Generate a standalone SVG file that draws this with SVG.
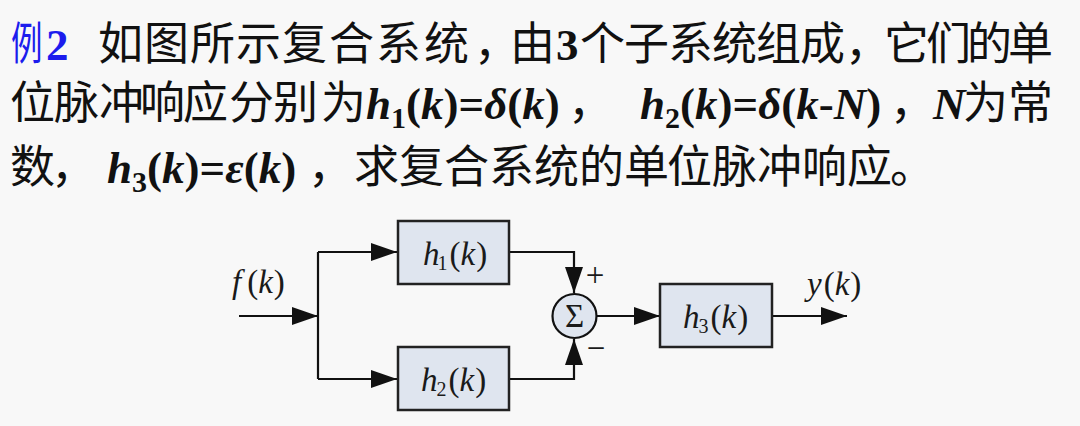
<svg xmlns="http://www.w3.org/2000/svg" width="1080" height="426" viewBox="0 0 1080 426">
<style>
.cj{font-family:"Noto Sans CJK SC","Noto Sans CJK JP",sans-serif;font-size:45px;fill:#111}
.m{font-family:"Liberation Serif","Times New Roman",serif;font-size:45px;font-weight:bold;fill:#111}
.i{font-style:italic}
.sub{font-size:30px}
.blue{fill:#1c1ced}
.box{fill:#dfe5ef;stroke:#222;stroke-width:2.5}
.lbl{font-family:"Liberation Serif","Times New Roman",serif;font-size:33px;fill:#1a1a1a}
.ls{font-size:20px}
.wire{fill:none;stroke:#111;stroke-width:2.2}
</style>
<defs>
<marker id="arr" viewBox="0 0 26 18" refX="26" refY="9" markerWidth="26" markerHeight="18" markerUnits="userSpaceOnUse" orient="auto">
<path d="M0,0 L26,9 L0,18 Z" fill="#111"/>
</marker>
</defs>
<rect x="0" y="0" width="1080" height="426" fill="#f8f8f8"/>

<g id="problem-text">
<text class="cj blue" transform="matrix(0.7 0 0 1 11 60)">例</text>
<text class="m blue" x="46" y="60" font-size="48">2</text>
<text class="cj" y="60" x="98 144 190 236 282 329 376 424 474 510">如图所示复合系统，由</text>
<text class="m" x="556" y="60">3</text>
<text class="cj" y="60" x="580 624 668 712 756 800 845 884 926 967 1008">个子系统组成，它们的单</text>

<text class="cj" y="119" x="10 54 99 140 183 229 273 321">位脉冲响应分别为</text>
<text class="m" x="366" y="119"><tspan class="i">h</tspan><tspan class="sub" dy="9">1</tspan><tspan dy="-9">(</tspan><tspan class="i">k</tspan>)=<tspan class="i">δ</tspan>(<tspan class="i">k</tspan>)</text>
<text class="cj" x="568" y="119">，</text>
<text class="m" x="640" y="119"><tspan class="i">h</tspan><tspan class="sub" dy="9">2</tspan><tspan dy="-9">(</tspan><tspan class="i">k</tspan>)=<tspan class="i">δ</tspan>(<tspan class="i">k</tspan>-<tspan class="i">N</tspan>)</text>
<text class="cj" x="890" y="119">，</text>
<text class="m i" x="933" y="119">N</text>
<text class="cj" y="119" x="963 1008">为常</text>

<text class="cj" y="183" x="10 51">数，</text>
<text class="m" x="107" y="183"><tspan class="i">h</tspan><tspan class="sub" dy="9">3</tspan><tspan dy="-9">(</tspan><tspan class="i">k</tspan>)=<tspan class="i">ε</tspan>(<tspan class="i">k</tspan>)</text>
<text class="cj" y="183" x="308 354 399 444 489 534 579 624 667 712 757 802 847 890">，求复合系统的单位脉冲响应。</text>
</g>

<g id="connectors">
<path class="wire" d="M239,316 H318" marker-end="url(#arr)"/>
<path class="wire" d="M318,252 V379"/>
<path class="wire" d="M318,252 H397" marker-end="url(#arr)"/>
<path class="wire" d="M318,379 H397" marker-end="url(#arr)"/>
<path class="wire" d="M509,252 H574 V293" marker-end="url(#arr)"/>
<path class="wire" d="M509,379 H574 V339" marker-end="url(#arr)"/>
<path class="wire" d="M597,316 H660" marker-end="url(#arr)"/>
<path class="wire" d="M772,316 H847" marker-end="url(#arr)"/>
</g>

<g id="input-label">
<text class="lbl" x="232" y="293"><tspan class="i">f</tspan><tspan dx="6">(</tspan><tspan class="i">k</tspan><tspan dx="1">)</tspan></text>
</g>

<g id="h1">
<rect class="box" x="398" y="221" width="111" height="63"/>
<text class="lbl" x="423" y="265"><tspan class="i">h</tspan><tspan class="ls" dx="-2" dy="5">1</tspan><tspan dx="2" dy="-5">(</tspan><tspan class="i">k</tspan><tspan dx="1">)</tspan></text>
</g>

<g id="h2">
<rect class="box" x="398" y="347" width="111" height="63"/>
<text class="lbl" x="421" y="391"><tspan class="i">h</tspan><tspan class="ls" dx="-1" dy="5">2</tspan><tspan dx="2" dy="-5">(</tspan><tspan class="i">k</tspan><tspan dx="1">)</tspan></text>
</g>

<g id="sum">
<circle cx="574.5" cy="316" r="22" fill="#dfe5ef" stroke="#111" stroke-width="2.2"/>
<text class="lbl" x="574.5" y="327" text-anchor="middle" font-size="32">Σ</text>
<text class="lbl" x="595" y="286" text-anchor="middle" font-size="26">+</text>
<text class="lbl" x="596" y="359" text-anchor="middle" font-size="26">−</text>
</g>

<g id="h3">
<rect class="box" x="660" y="284" width="112" height="63"/>
<text class="lbl" x="683" y="328"><tspan class="i">h</tspan><tspan class="ls" dx="-1" dy="5">3</tspan><tspan dx="2" dy="-5">(</tspan><tspan class="i">k</tspan><tspan dx="1">)</tspan></text>
</g>

<g id="output-label">
<text class="lbl" x="807" y="295"><tspan class="i">y</tspan><tspan dx="2">(</tspan><tspan class="i">k</tspan><tspan dx="1">)</tspan></text>
</g>
</svg>
